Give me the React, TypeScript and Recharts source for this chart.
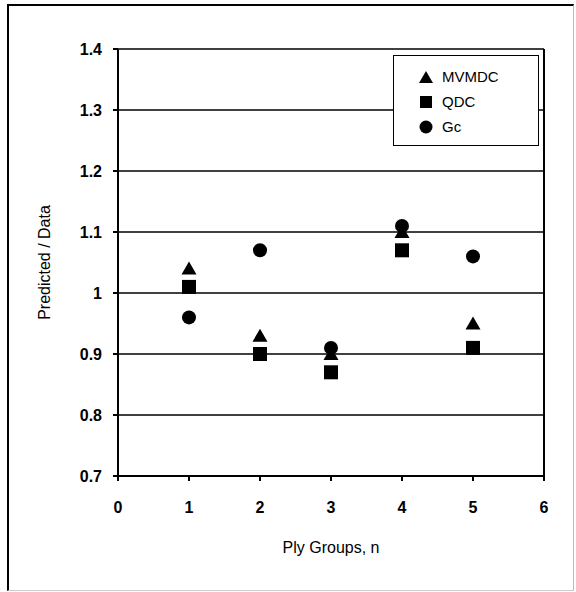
import React from 'react';
import { ScatterChart, Scatter, XAxis, YAxis, CartesianGrid, ReferenceLine, Label } from 'recharts';

const plyGroups = [1, 2, 3, 4, 5];
const mvmdc = [1.04, 0.93, 0.9, 1.1, 0.95];
const qdc = [1.01, 0.9, 0.87, 1.07, 0.91];
const gc = [0.96, 1.07, 0.91, 1.11, 1.06];

const xTicks = [0, 1, 2, 3, 4, 5, 6];
const yTicks = [0.7, 0.8, 0.9, 1, 1.1, 1.2, 1.3, 1.4];

const toPoints = (vals: number[]) => plyGroups.map((n, i) => ({ n, v: vals[i] }));

const FONT = '"Liberation Sans", Arial, sans-serif';

const Triangle = (p: any) => (
  <polygon points={`${p.cx},${p.cy - 7} ${p.cx + 7.5},${p.cy + 6} ${p.cx - 7.5},${p.cy + 6}`} fill="#000" />
);
const Square = (p: any) => <rect x={p.cx - 7} y={p.cy - 7} width={14} height={14} fill="#000" />;
const Dot = (p: any) => <circle cx={p.cx} cy={p.cy} r={7} fill="#000" />;

const legendItems = [
  { name: 'MVMDC', icon: <polygon points="7,1 14,13 0,13" fill="#000" /> },
  { name: 'QDC', icon: <rect x={1} y={1} width={12} height={12} fill="#000" /> },
  { name: 'Gc', icon: <circle cx={7} cy={7} r={6.5} fill="#000" /> },
];

// legend box drawn over the plot, top-right
const LegendBox = () => (
  <div
    style={{
      position: 'absolute',
      left: 393,
      top: 55,
      width: 144,
      height: 81,
      border: '1px solid #000',
      background: '#fff',
      fontFamily: FONT,
      fontSize: 15,
      paddingTop: 8,
    }}
  >
    {legendItems.map((it) => (
      <div key={it.name} style={{ display: 'flex', alignItems: 'center', height: 25, paddingLeft: 25 }}>
        <svg width={14} height={14} style={{ marginRight: 9 }}>
          {it.icon}
        </svg>
        <span>{it.name}</span>
      </div>
    ))}
  </div>
);

const YTitle = (props: any) => {
  const { y, height } = props.viewBox;
  const cy = y + height / 2;
  return (
    <text x={46} y={cy} transform={`rotate(-90 46 ${cy})`} textAnchor="middle" dominantBaseline="middle" fontFamily={FONT} fontSize={16} fill="#000">
      Predicted / Data
    </text>
  );
};

const tickStyle = { fill: '#000', fontSize: 16, fontWeight: 'bold' as const, fontFamily: FONT };

export default function App() {
  return (
    <div style={{ position: 'absolute', left: 0, top: 0, width: 576, height: 592, background: '#fff' }}>
      <div
        style={{
          position: 'absolute',
          left: 7,
          top: 4,
          width: 564,
          height: 584,
          borderLeft: '2px solid #000',
          borderTop: '2px solid #000',
          borderRight: '1px solid #bbb',
          borderBottom: '1px solid #ccc',
        }}
      />
      <ScatterChart width={576} height={592} margin={{ top: 49, right: 32, bottom: 0, left: 0 }}>
        <CartesianGrid horizontal vertical={false} stroke="#000" strokeWidth={1.5} strokeOpacity={1} />
        <XAxis
          type="number"
          dataKey="n"
          domain={[0, 6]}
          ticks={xTicks}
          height={116}
          stroke="#000"
          strokeWidth={2}
          tickSize={5}
          tickMargin={21}
          tick={tickStyle}
          allowDataOverflow
        >
          <Label value="Ply Groups, n" position="insideTop" offset={66} style={{ fill: '#000', fontSize: 16, fontFamily: FONT }} />
        </XAxis>
        <YAxis
          type="number"
          dataKey="v"
          domain={[0.7, 1.4]}
          ticks={yTicks}
          width={118}
          stroke="#000"
          strokeWidth={2}
          tickSize={5}
          tickMargin={11}
          tick={tickStyle}
          allowDataOverflow
        >
          <Label content={<YTitle />} />
        </YAxis>
        <ReferenceLine x={6} stroke="#000" strokeWidth={2} />
        <Scatter name="MVMDC" data={toPoints(mvmdc)} shape={Triangle} isAnimationActive={false} />
        <Scatter name="QDC" data={toPoints(qdc)} shape={Square} isAnimationActive={false} />
        <Scatter name="Gc" data={toPoints(gc)} shape={Dot} isAnimationActive={false} />
      </ScatterChart>
      <LegendBox />
    </div>
  );
}
